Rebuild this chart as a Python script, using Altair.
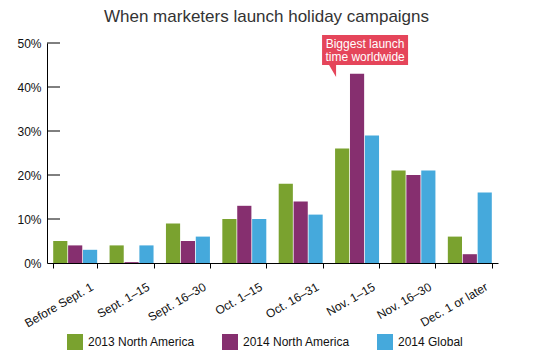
import altair as alt
import pandas as pd

categories = ["Before Sept. 1", "Sept. 1–15", "Sept. 16–30", "Oct. 1–15",
              "Oct. 16–31", "Nov. 1–15", "Nov. 16–30", "Dec. 1 or later"]
series = ["2013 North America", "2014 North America", "2014 Global"]
na_2013 = [5, 4, 9, 10, 18, 26, 21, 6]
na_2014 = [4, 0.2, 5, 13, 14, 43, 20, 2]
global_2014 = [3, 4, 6, 10, 11, 29, 21, 16]
colors = ["#7aa22f", "#862f6f", "#45a9dc"]
y_ticks = [0, 10, 20, 30, 40, 50]
annotation_lines = ["Biggest launch", "time worldwide"]
annotation_category = "Nov. 1–15"
annotation_value = 48.4

rows = []
for s, vals in zip(series, [na_2013, na_2014, global_2014]):
    for c, v in zip(categories, vals):
        rows.append({"category": c, "series": s, "value": v})
df = pd.DataFrame(rows)

FONT = "Liberation Sans"

x_enc = alt.X("category:N", sort=categories,
              scale=alt.Scale(paddingInner=0.22, paddingOuter=0.11),
              axis=alt.Axis(title=None, labelAngle=-30, labelAlign="right",
                            labelBaseline="top", labelOffset=14, labelPadding=13,
                            tickBand="extent", tickSize=5, tickColor="#000",
                            domainColor="#000", labelFontSize=12,
                            labelColor="#111", labelFont=FONT, grid=False))
y_scale = alt.Scale(domain=[0, 50], nice=False)

bars = alt.Chart(df).mark_bar().encode(
    x=x_enc,
    xOffset=alt.XOffset("series:N", sort=series, scale=alt.Scale(paddingInner=0.05)),
    y=alt.Y("value:Q", scale=y_scale,
            axis=alt.Axis(title=None, values=y_ticks, labelExpr="datum.value + '%'",
                          ticks=False, grid=False, domainColor="#000",
                          labelPadding=6, labelFontSize=12, labelColor="#111",
                          labelFont=FONT)),
    color=alt.Color("series:N", sort=series,
                    scale=alt.Scale(domain=series, range=colors),
                    legend=alt.Legend(title=None, orient="none", direction="horizontal",
                                      legendX=20, legendY=291, symbolType="square",
                                      symbolSize=256, symbolStrokeWidth=0,
                                      labelFontSize=12, labelFont=FONT,
                                      labelColor="#111", labelOffset=5,
                                      columnPadding=27, padding=0)),
)

tick_df = pd.DataFrame({"v": y_ticks[1:]})
ticks = alt.Chart(tick_df).mark_rule(color="#000", strokeWidth=1).encode(
    y=alt.Y("v:Q", scale=y_scale),
    x=alt.value(0), x2=alt.value(13),
)

ann_df = pd.DataFrame({"category": [annotation_category], "v": [annotation_value],
                       "label": [annotation_lines]})
box_path = "M-1,-0.35 H1 V0.35 H-0.674 V0.628 L-0.837,0.35 H-1 Z"
box = alt.Chart(ann_df).mark_point(shape=box_path, size=7396, filled=True,
                                   color="#e5455a", opacity=1, strokeWidth=0,
                                   xOffset=8).encode(
    x=alt.X("category:N", sort=categories),
    y=alt.Y("v:Q", scale=y_scale),
)
ann_text = alt.Chart(ann_df).mark_text(color="white", fontSize=12, font=FONT,
                                       lineHeight=13, baseline="middle",
                                       xOffset=8, yOffset=-6).encode(
    x=alt.X("category:N", sort=categories),
    y=alt.Y("v:Q", scale=y_scale),
    text="label",
)

chart = alt.layer(bars, ticks, box, ann_text).properties(
    width=451, height=220,
    title=alt.Title("When marketers launch holiday campaigns", fontSize=17,
                    font=FONT, fontWeight="normal", color="#333",
                    anchor="middle", offset=9, dx=-6),
    padding={"left": 39, "top": 35, "right": 29, "bottom": 92},
    autosize=alt.AutoSizeParams(type="none"),
).configure_view(stroke=None).configure_axisY(domainColor="#000")

chart.save("out.html", embed_options={"renderer": "svg", "actions": False})
